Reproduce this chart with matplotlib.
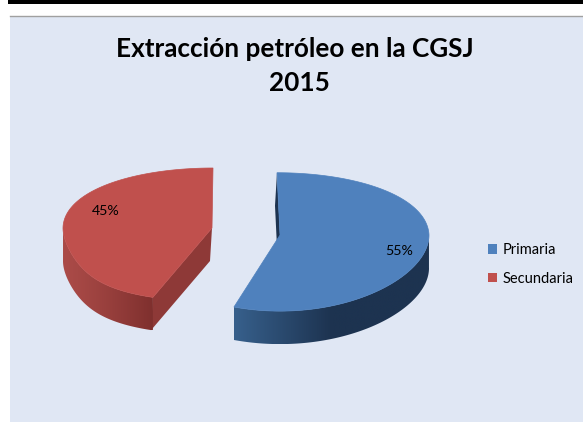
import numpy as np
import matplotlib
matplotlib.use("Agg")
import matplotlib.pyplot as plt
from matplotlib.patches import Polygon, Rectangle, Patch
from matplotlib.colors import to_rgb

# Data
categories = ["Primaria", "Secundaria"]
shares = [55, 45]
labels = ["55%", "45%"]
title_lines = ["Extracción petróleo en la CGSJ", "2015"]

# Style
colors = ["#4F81BD", "#C0504D"]
wall_light = ["#37608C", "#AB4B48"]
wall_dark = ["#1D3350", "#7F302E"]
face_dark = ["#1D3350", "#8E3937"]
apex = [(280, 235), (212, 228)]     # exploded slice centres (px)
radius_x = [149, 149]
radius_y = [68.5, 66.0]
skew = [0.0, 0.33]
tilt = [3.0, -1.0]
base_dx = [-2.0, -2.0]
K, DEPTH = 0.10, 33
BG = "#E0E7F4"
FONT = ["Lato", "DejaVu Sans"]

plt.rcParams["font.family"] = FONT
fig = plt.figure(figsize=(5.83, 4.22), dpi=100, facecolor="white")
ax = fig.add_axes([0, 0, 1, 1])
ax.axis("off")

# Frame
ax.add_patch(Rectangle((10, 16), 573, 406, fc=BG, ec="none", zorder=0))
ax.add_patch(Rectangle((8, 0), 575, 3.5, fc="black", ec="none", zorder=1))
ax.plot([10, 583], [15.5, 15.5], color="#A0A0A0", lw=1.0, zorder=1)
ax.text(295, 49, title_lines[0], ha="center", va="center",
        fontsize=18.8, fontweight="bold", color="black")
ax.text(299, 83, title_lines[1], ha="center", va="center",
        fontsize=18.8, fontweight="bold", color="black")


def project(theta, i):
    u, v = np.sin(theta), -np.cos(theta)
    s = 1 + skew[i] * np.clip(v, 0, None) ** 3
    x = apex[i][0] + radius_x[i] * u * s + tilt[i] * np.clip(v, None, 0)
    y = apex[i][1] + radius_y[i] * v / (1 - K * v)
    return x, y


fractions = np.array(shares) / sum(shares)
edges = np.concatenate([[0], np.cumsum(fractions)]) * 2 * np.pi

for i in range(len(shares)):
    t0, t1 = edges[i], edges[i + 1]
    cx, cy = apex[i]
    theta = np.linspace(t0, t1, 240)
    xs, ys = project(theta, i)
    c0, c1 = np.array(to_rgb(wall_light[i])), np.array(to_rgb(wall_dark[i]))

    # Radial face visible beside the top surface
    x, y = project(np.array(t0), i)
    pts = [(cx, cy), (x, y), (x + base_dx[i], y + DEPTH),
           (cx + base_dx[i], cy + DEPTH)]
    ax.add_patch(Polygon(pts, fc=face_dark[i], ec="none", zorder=2))

    # Outer wall: horizontal gradient clipped to the front arc
    vis = np.cos(theta) < 0.02
    wx, wy = xs[vis], ys[vis]
    xmin, xmax = wx.min(), wx.max()
    frac = np.linspace(0, 1, 256)
    if i == 0:
        ramp = np.clip(frac / 0.5, 0, 1)
    else:
        ramp = frac ** 1.2
    grad = (c0[None, :] + (c1 - c0)[None, :] * ramp[:, None])[None, :, :]
    im = ax.imshow(grad, extent=(xmin, xmax, wy.max() + DEPTH, wy.min()),
                   aspect="auto", zorder=3, interpolation="bilinear")
    wall = Polygon(np.column_stack([np.r_[wx, wx[::-1]],
                                    np.r_[wy, wy[::-1] + DEPTH]]),
                   fc="none", ec="none", transform=ax.transData)
    ax.add_patch(wall)
    im.set_clip_path(wall)

    # Top surface
    top = np.column_stack([np.r_[cx, xs], np.r_[cy, ys]])
    ax.add_patch(Polygon(top, fc=colors[i], ec=colors[i], lw=0.5, zorder=4))

ax.set_xlim(0, 583)
ax.set_ylim(422, 0)

# Value labels
ax.text(399, 251, labels[0], ha="center", va="center", fontsize=10.2,
        color="black", zorder=5)
ax.text(106, 211, labels[1], ha="center", va="center", fontsize=10.2,
        color="black", zorder=5)

# Legend
handles = [Patch(fc=c, ec="none") for c in colors]
ax.legend(handles, categories, loc="center left",
          bbox_to_anchor=(488 / 583, 1 - 264.5 / 422), frameon=False,
          fontsize=10.5, handlelength=0.62, handleheight=0.62,
          handletextpad=0.4, labelspacing=1.0, borderpad=0, borderaxespad=0)

fig.savefig("out.png", dpi=100)
